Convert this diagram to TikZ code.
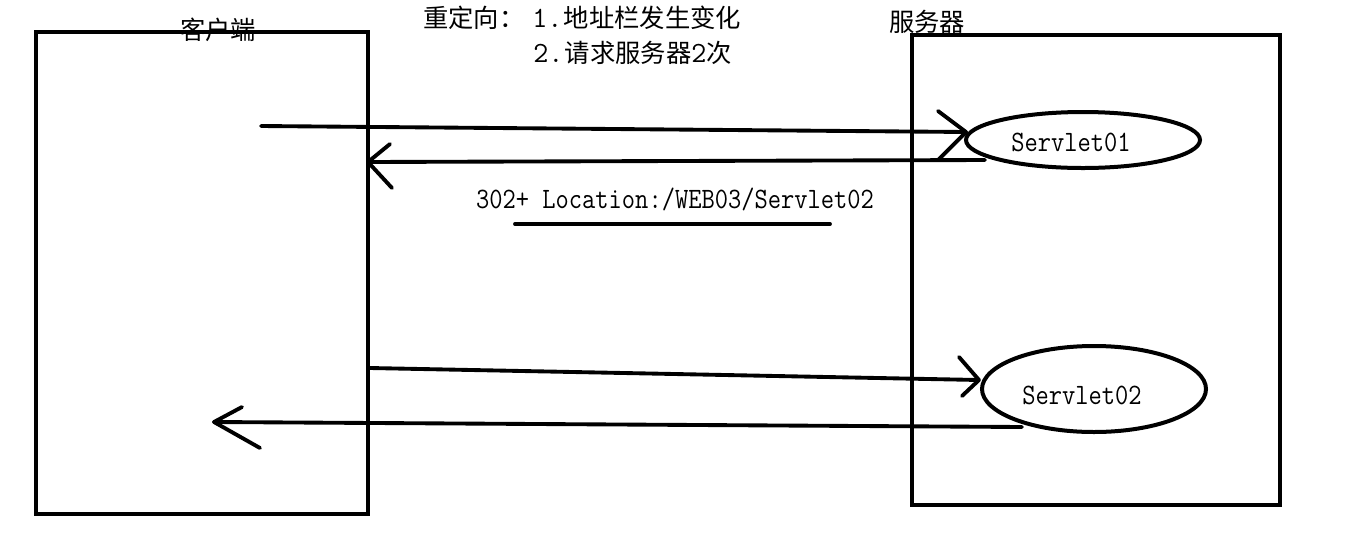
\documentclass[tikz,border=0pt]{standalone}
\usepackage{fontspec}
\setmainfont{Liberation Serif}
\newfontfamily\cjk{Noto Sans CJK SC}
\newcommand\code{\ttfamily}
\newcommand\digits[1]{{\ttfamily\fontsize{22pt}{22pt}\selectfont #1}}
\usetikzlibrary{shapes.geometric}
\newcommand\stretchy[1]{\scalebox{1}[1.15]{#1}}
\begin{document}
\begin{tikzpicture}[x=0.75pt,y=-0.75pt,
  box/.style={draw, line width=3pt, inner sep=0pt},
  oval/.style={ellipse, draw, line width=3pt, inner sep=0pt},
  conn/.style={line width=2.9pt, line cap=round, line join=round},
  cjktext/.style={inner sep=0pt, font=\cjk\fontsize{19pt}{22pt}\selectfont},
  codetext/.style={inner sep=0pt, font=\code\fontsize{19.3pt}{22pt}\selectfont}]
\fill[white] (0,0) rectangle (1360,540);
\useasboundingbox (0,0) rectangle (1360,540);

% boxes
\node[box, minimum width=249pt, minimum height=361.5pt] (client) at (202,273) {};
\node[box, minimum width=276pt, minimum height=352.5pt] (server) at (1096,270) {};

% titles
\node[cjktext] (clientlbl) at (218,30) {客户端};
\node[cjktext] (serverlbl) at (927,22) {服务器};
\node[cjktext, anchor=west] (t1a) at (423,18) {重定向：};
\node[cjktext, anchor=west] (t1b) at (532,18) {\digits{1.}\hspace{1pt}地址栏发生变化};
\node[cjktext, anchor=west] (t2) at (533,53) {\digits{2.}\hspace{1pt}请求服务器\digits{2}次};

% servlets
\node[oval, minimum width=175.5pt, minimum height=42pt] (e1) at (1083,140) {};
\node[codetext] (s1) at (1071,142) {\stretchy{Servlet01}};
\node[oval, minimum width=168pt, minimum height=64.5pt] (e2) at (1094,389) {};
\node[codetext] (s2) at (1082,395) {\stretchy{Servlet02}};

% redirect label
\node[codetext] (loc) at (675,199) {\stretchy{302+ Location:/WEB03/Servlet02}};
\coordinate (u1) at (515,224);
\coordinate (u2) at (830,224);
\draw[conn] (u1) -- (u2);

% arrow 1: request to Servlet01
\coordinate (a1s) at (261,126);
\coordinate (a1t) at (966,132);
\coordinate (a1u) at (938,111);
\coordinate (a1d) at (938,160);
\draw[conn] (a1s) -- (a1t);
\draw[conn] (a1u) -- (a1t) -- (a1d);

% arrow 2: 302 response
\coordinate (a2s) at (985,160);
\coordinate (a2t) at (368,162);
\coordinate (a2u) at (390,144);
\coordinate (a2d) at (392,188);
\draw[conn] (a2s) -- (a2t);
\draw[conn] (a2u) -- (a2t) -- (a2d);

% arrow 3: request to Servlet02
\coordinate (a3s) at (client.east |- 0,368);
\coordinate (a3t) at (979,380);
\coordinate (a3u) at (959,357);
\coordinate (a3d) at (962,396);
\draw[conn] (a3s) -- (a3t);
\draw[conn] (a3u) -- (a3t) -- (a3d);

% arrow 4: response
\coordinate (a4s) at (1022,427);
\coordinate (a4t) at (214,422);
\coordinate (a4u) at (242,407);
\coordinate (a4d) at (260,448);
\draw[conn] (a4s) -- (a4t);
\draw[conn] (a4u) -- (a4t) -- (a4d);
\end{tikzpicture}
\end{document}
